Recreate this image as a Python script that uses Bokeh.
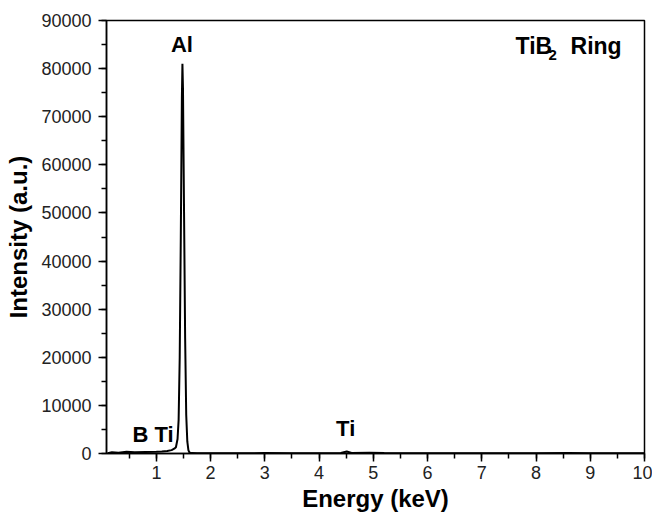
from bokeh.plotting import figure
from bokeh.models import SingleIntervalTicker, Label, Range1d, ColumnDataSource
from bokeh.embed import file_html
from bokeh.resources import INLINE

# EDS spectrum
energy_kev = [0.10, 0.18, 0.30, 0.45, 0.60, 0.80, 1.00, 1.10, 1.20, 1.28, 1.33,
              1.36, 1.39, 1.41, 1.43, 1.45, 1.47, 1.48, 1.49, 1.51, 1.53, 1.55,
              1.57, 1.59, 1.61, 1.65, 1.75, 2.00, 2.50, 3.00, 3.50, 4.00, 4.40,
              4.51, 4.60, 4.93, 5.20, 6.00, 7.00, 8.00, 8.60, 9.00, 10.00]
intensity = [50, 250, 150, 350, 250, 300, 350, 400, 500, 700, 1000,
             1300, 3000, 7000, 20000, 45000, 74000, 81000, 76000, 50000, 24000, 8000,
             2500, 700, 200, 80, 60, 50, 60, 80, 60, 60, 100,
             400, 120, 150, 80, 60, 50, 60, 80, 60, 50]

# peak annotations: (text, energy, intensity, align)
peak_labels = [("Al", 1.47, 85050, "center"),
               ("B Ti", 0.559, 3930, "left"),
               ("Ti", 4.49, 5170, "center")]

FONT = "Liberation Sans"

p = figure(width=652, height=514, output_backend="svg", toolbar_location=None,
           x_range=Range1d(0.08, 10), y_range=Range1d(0, 90000),
           min_border_left=106, min_border_right=8, min_border_top=20,
           min_border_bottom=59)

src = ColumnDataSource(dict(x=energy_kev, y=intensity))
p.line("x", "y", source=src, line_color="black", line_width=2)

p.xgrid.visible = False
p.ygrid.visible = False
p.outline_line_color = "black"
p.outline_line_width = 1.5
p.outline_line_alpha = 1
p.background_fill_color = "white"
p.border_fill_color = "white"

p.xaxis.ticker = SingleIntervalTicker(interval=1, num_minor_ticks=2)
p.yaxis.ticker = SingleIntervalTicker(interval=10000, num_minor_ticks=2)

for ax in (p.xaxis[0], p.yaxis[0]):
    ax.axis_line_color = "black"
    ax.axis_line_width = 1.5
    ax.major_tick_line_color = "black"
    ax.minor_tick_line_color = "black"
    ax.major_tick_line_width = 1.5
    ax.minor_tick_line_width = 1.5
    ax.major_tick_in = 0
    ax.major_tick_out = 8
    ax.minor_tick_in = 0
    ax.minor_tick_out = 5
    ax.major_label_text_font = FONT
    ax.major_label_text_font_size = "18px"
    ax.major_label_text_color = "#222222"
    ax.axis_label_text_font = FONT
    ax.axis_label_text_font_size = "24px"
    ax.axis_label_text_font_style = "bold"
    ax.axis_label_text_color = "black"

p.xaxis.axis_label = "Energy (keV)"
p.yaxis.axis_label = "Intensity (a.u.)"
p.xaxis.major_label_standoff = 4
p.xaxis.axis_label_standoff = 3
p.yaxis.major_label_standoff = 7
p.yaxis.axis_label_standoff = 6

for txt, x, y, al in peak_labels:
    p.add_layout(Label(x=x, y=y, text=txt, text_font=FONT, text_font_size="22px",
                       text_font_style="bold", text_align=al,
                       text_baseline="alphabetic", text_color="black"))

# "TiB2 Ring" with subscript 2
for txt, x, y, size in [("TiB", 7.622, 84620, "23px"), ("2", 8.23, 82860, "15px"),
                        ("Ring", 8.636, 84620, "23px")]:
    p.add_layout(Label(x=x, y=y, text=txt, text_font=FONT, text_font_size=size,
                       text_font_style="bold", text_align="left",
                       text_baseline="alphabetic", text_color="black"))

open("out.html", "w").write(file_html(p, INLINE))
